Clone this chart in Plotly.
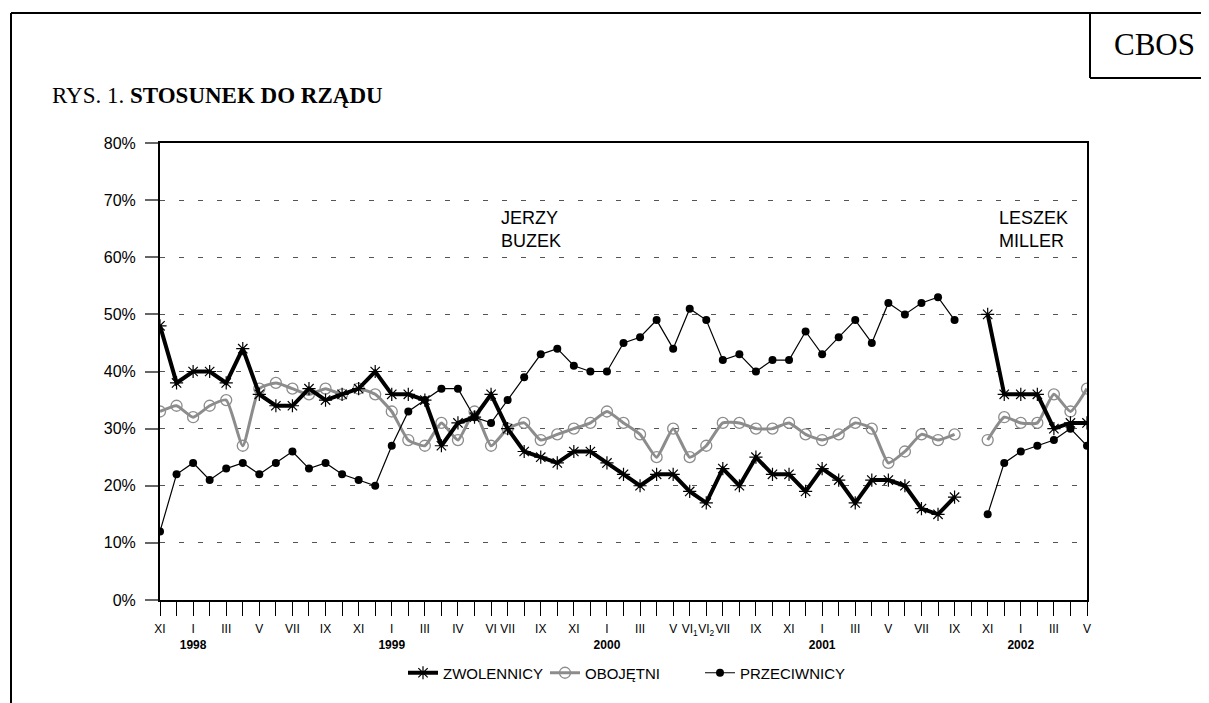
import plotly.graph_objects as go

categories = [
    "XI 1997", "XII 1997",
    "I 1998", "II 1998", "III 1998", "IV 1998", "V 1998", "VI 1998", "VII 1998", "VIII 1998",
    "IX 1998", "X 1998", "XI 1998", "XII 1998",
    "I 1999", "II 1999", "III 1999", "III-2 1999", "IV 1999", "V 1999", "VI 1999", "VII 1999",
    "VIII 1999", "IX 1999", "X 1999", "XI 1999", "XII 1999",
    "I 2000", "II 2000", "III 2000", "IV 2000", "V 2000", "VI-1 2000", "VI-2 2000", "VII 2000",
    "VIII 2000", "IX 2000", "X 2000", "XI 2000", "XII 2000",
    "I 2001", "II 2001", "III 2001", "IV 2001", "V 2001", "VI 2001", "VII 2001", "VIII 2001",
    "IX 2001", "X 2001", "XI 2001", "XII 2001",
    "I 2002", "II 2002", "III 2002", "IV 2002", "V 2002",
]

tick_labels = [
    "XI", "",
    "I<br><b>1998</b>", "", "III", "", "V", "", "VII", "", "IX", "", "XI", "",
    "I<br><b>1999</b>", "", "III", "", "IV", "", "VI", "VII", "", "IX", "", "XI", "",
    "I<br><b>2000</b>", "", "III", "", "V", "VI<sub>1</sub>", "VI<sub>2</sub>", "VII", "", "IX", "", "XI", "",
    "I<br><b>2001</b>", "", "III", "", "V", "", "VII", "", "IX", "", "XI", "",
    "I<br><b>2002</b>", "", "III", "", "V",
]

zwolennicy = [48, 38, 40, 40, 38, 44, 36, 34, 34, 37, 35, 36, 37, 40,
              36, 36, 35, 27, 31, 32, 36, 30, 26, 25, 24, 26, 26,
              24, 22, 20, 22, 22, 19, 17, 23, 20, 25, 22, 22, 19,
              23, 21, 17, 21, 21, 20, 16, 15, 18, None, 50, 36,
              36, 36, 30, 31, 31]

obojetni = [33, 34, 32, 34, 35, 27, 37, 38, 37, 36, 37, 36, 37, 36,
            33, 28, 27, 31, 28, 33, 27, 30, 31, 28, 29, 30, 31,
            33, 31, 29, 25, 30, 25, 27, 31, 31, 30, 30, 31, 29,
            28, 29, 31, 30, 24, 26, 29, 28, 29, None, 28, 32,
            31, 31, 36, 33, 37]

przeciwnicy = [12, 22, 24, 21, 23, 24, 22, 24, 26, 23, 24, 22, 21, 20,
               27, 33, 35, 37, 37, 32, 31, 35, 39, 43, 44, 41, 40,
               40, 45, 46, 49, 44, 51, 49, 42, 43, 40, 42, 42, 47,
               43, 46, 49, 45, 52, 50, 52, 53, 49, None, 15, 24,
               26, 27, 28, 30, 27]

series_names = ["ZWOLENNICY", "OBOJĘTNI", "PRZECIWNICY"]

SANS = "Liberation Sans, Arial, sans-serif"
SERIF = "Liberation Serif, Times New Roman, serif"

# page has an 8px body margin; target plot area in page px
OFF = 8
L, R, T, B = 160, 1087, 143, 600
W, H = R - L, B - T
FIG_W, FIG_H = 1209, 703


def px(x):
    return (x - L) / W


def py(y):
    return (B - y) / H


fig = go.Figure()

fig.add_trace(go.Scatter(
    x=categories, y=obojetni, name=series_names[1], mode="lines+markers",
    line=dict(color="#8c8c8c", width=3, shape="spline", smoothing=0.5),
    marker=dict(symbol="circle-open", size=11, color="#8c8c8c", line=dict(width=1.3, color="#8c8c8c")),
    connectgaps=False, legend="legend2",
))
fig.add_trace(go.Scatter(
    x=categories, y=przeciwnicy, name=series_names[2], mode="lines+markers",
    line=dict(color="black", width=1.2),
    marker=dict(symbol="circle", size=8, color="black"),
    connectgaps=False, legend="legend3",
))
fig.add_trace(go.Scatter(
    x=categories, y=zwolennicy, name=series_names[0], mode="lines+markers",
    line=dict(color="black", width=4),
    marker=dict(symbol="asterisk-open", size=11, color="black", line=dict(width=1.2, color="black")),
    connectgaps=False, legend="legend",
))

shapes = [
    dict(type="line", xref="paper", yref="paper", x0=px(11), x1=px(11), y0=py(13), y1=py(720),
         line=dict(color="black", width=2)),
    dict(type="line", xref="paper", yref="paper", x0=px(11), x1=px(1225), y0=py(13), y1=py(13),
         line=dict(color="black", width=2)),
    dict(type="line", xref="paper", yref="paper", x0=px(1090), x1=px(1090), y0=py(13), y1=py(78),
         line=dict(color="black", width=2)),
    dict(type="line", xref="paper", yref="paper", x0=px(1090), x1=px(1225), y0=py(78), y1=py(78),
         line=dict(color="black", width=2)),
]

annotations = [
    dict(xref="paper", yref="paper", x=px(50), y=py(95), xanchor="left", yanchor="middle",
         text="RYS. 1. <b>STOSUNEK DO RZĄDU</b>", showarrow=False,
         font=dict(family=SERIF, size=23, color="black")),
    dict(xref="paper", yref="paper", x=px(1154), y=py(45), xanchor="center", yanchor="middle",
         text="CBOS", showarrow=False, font=dict(family=SERIF, size=31, color="black")),
    dict(xref="paper", yref="paper", x=px(499), y=py(229), xanchor="left", yanchor="middle",
         text="JERZY<br>BUZEK", align="left", showarrow=False,
         font=dict(family=SANS, size=18, color="black")),
    dict(xref="paper", yref="paper", x=px(997), y=py(229), xanchor="left", yanchor="middle",
         text="LESZEK<br>MILLER", align="left", showarrow=False,
         font=dict(family=SANS, size=18, color="black")),
]

leg_common = dict(orientation="h", yanchor="middle", y=py(673), xanchor="left",
                  font=dict(family=SANS, size=15, color="black"),
                  itemwidth=30, bgcolor="rgba(0,0,0,0)", borderwidth=0)

fig.update_layout(
    width=FIG_W, height=FIG_H,
    margin=dict(l=L - OFF, r=FIG_W - (R - OFF), t=T - OFF, b=FIG_H - (B - OFF), pad=0),
    paper_bgcolor="white", plot_bgcolor="white",
    showlegend=True,
    legend=dict(x=px(443 - 40), **leg_common),
    legend2=dict(x=px(585 - 40), **leg_common),
    legend3=dict(x=px(740 - 40), **leg_common),
    shapes=shapes,
    annotations=annotations,
    font=dict(family=SANS, color="black"),
)

fig.update_xaxes(
    type="category", categoryorder="array", categoryarray=categories,
    range=[0, len(categories) - 1],
    tickmode="array", tickvals=categories, ticktext=tick_labels,
    ticks="outside", ticklen=14, tickwidth=1, tickcolor="black",
    ticklabelstandoff=3,
    showline=True, linecolor="black", linewidth=2, mirror=True,
    showgrid=False, zeroline=False, tickangle=0,
    tickfont=dict(family=SANS, size=12, color="black"),
)
fig.update_yaxes(
    range=[0, 80], dtick=10, tick0=0, ticksuffix="%",
    ticks="outside", ticklen=13, tickwidth=2, tickcolor="#666666",
    ticklabelstandoff=6,
    showline=True, linecolor="black", linewidth=2, mirror=True,
    showgrid=True, gridcolor="#555555", gridwidth=1, griddash="5px,14px",
    zeroline=False,
    tickfont=dict(family=SANS, size=16, color="black"),
)

fig.write_html("out.html")
